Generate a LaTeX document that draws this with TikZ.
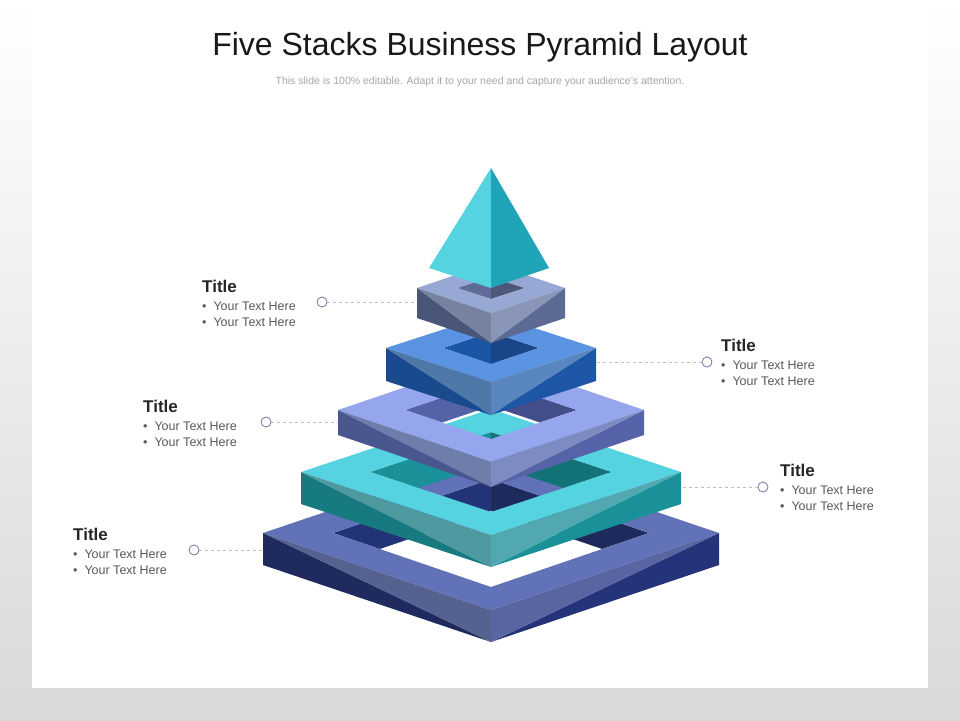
\documentclass[tikz,border=0pt]{standalone}
\usepackage{fontspec}
\setmainfont{Liberation Sans}
\newcommand\ringlayer[7]{% cx cy W D H w d
  \begin{scope}
    \clip (#1-#6,#2) -- (#1,#2-#7) -- (#1+#6,#2) -- (#1,#2+#7) -- cycle;
    \fill[rhl] (#1-#6,#2) -- (#1,#2-#7) -- (#1,#2-#7+#5) -- (#1-#6,#2+#5) -- cycle;
    \fill[rhr] (#1+#6,#2) -- (#1,#2-#7) -- (#1,#2-#7+#5) -- (#1+#6,#2+#5) -- cycle;
  \end{scope}
  \fill[rtop,even odd rule] (#1-#3,#2) -- (#1,#2-#4) -- (#1+#3,#2) -- (#1,#2+#4) -- cycle
     (#1-#6,#2) -- (#1,#2-#7) -- (#1+#6,#2) -- (#1,#2+#7) -- cycle;
  \fill[rleft] (#1-#3,#2) -- (#1,#2+#4+#5) -- (#1-#3,#2+#5) -- cycle;
  \fill[rleftl] (#1-#3,#2) -- (#1,#2+#4) -- (#1,#2+#4+#5) -- cycle;
  \fill[rright] (#1+#3,#2) -- (#1,#2+#4+#5) -- (#1+#3,#2+#5) -- cycle;
  \fill[rrightl] (#1+#3,#2) -- (#1,#2+#4) -- (#1,#2+#4+#5) -- cycle;
}
\newcommand\setring[7]{\definecolor{rtop}{HTML}{#1}\definecolor{rleft}{HTML}{#2}\definecolor{rleftl}{HTML}{#3}\definecolor{rright}{HTML}{#4}\definecolor{rrightl}{HTML}{#5}\definecolor{rhl}{HTML}{#6}\definecolor{rhr}{HTML}{#7}}
\tikzset{
  dot/.style={circle,draw=black!60!blue!60,fill=white,line width=0.7pt,minimum size=10pt,inner sep=0pt},
  lead/.style={draw=gray!50,dashed,line width=0.8pt},
  ttl/.style={anchor=west,font=\fontsize{17}{20}\selectfont\bfseries,text=black!85,inner sep=0pt},
  bul/.style={anchor=north west,font=\fontsize{12.5}{16}\selectfont,text=black!65,align=left,inner sep=0pt}
}
\begin{document}
\begin{tikzpicture}[x=1pt,y=-1pt]
\useasboundingbox (0,0) rectangle (960,720);
\shade[top color=white,bottom color=black!15] (0,0) rectangle (960,720);
\fill[white] (32,0) rectangle (928,688);
\node[font=\fontsize{32}{36}\selectfont,text=black!90] (title) at (480,47) {Five Stacks Business Pyramid Layout};
\node[font=\fontsize{10.5}{12}\selectfont,text=black!35] (sub) at (480,82) {This slide is 100\% editable. Adapt it to your need and capture your audience's attention.};
% layer 5
\setring{6272B8}{1F2A5E}{55628F}{24337A}{5865A0}{223377}{1E2A5C}
\ringlayer{491}{533}{228}{77}{32}{158}{54}
% layer 4
\setring{55D3E0}{167A80}{4E9AA0}{1A9098}{52A8B0}{1A9098}{137278}
\ringlayer{491}{472}{190}{63}{32}{121}{40}
% layer 3
\setring{96A6EE}{4A568E}{6F7DAA}{5663A8}{7E8BC2}{5462A8}{434E8A}
\ringlayer{491}{410}{153}{52}{25}{86}{29}
% layer 2
\setring{5B93E3}{1A4A8E}{4D78A8}{1E56A6}{5A86C0}{1B56A6}{1A4588}
\ringlayer{491}{348}{105}{34}{33}{48}{16}
% layer 1
\setring{98A8D4}{4A5678}{7782A0}{5D6A94}{8A96B8}{606C98}{4D5878}
\ringlayer{491}{288}{74}{25}{30}{34}{11}
% apex
\fill[fill={rgb,255:red,85;green,211;blue,224}] (491,168) -- (429,268) -- (491,288) -- cycle;
\fill[fill={rgb,255:red,32;green,164;blue,184}] (491,168) -- (549,268) -- (491,288) -- cycle;
% callouts
\coordinate (e1) at (417,302); \coordinate (e2) at (596,362); \coordinate (e3) at (338,422);
\coordinate (e4) at (681,487); \coordinate (e5) at (264,550);
\node[dot] (d1) at (322,302) {}; \node[dot] (d2) at (707,362) {}; \node[dot] (d3) at (266,422) {};
\node[dot] (d4) at (763,487) {}; \node[dot] (d5) at (194,550) {};
\draw[lead] (d1) -- (e1); \draw[lead] (d2) -- (e2); \draw[lead] (d3) -- (e3);
\draw[lead] (d4) -- (e4); \draw[lead] (d5) -- (e5);
\node[ttl] (t1) at (202,286) {Title}; \node[bul] (b1) at (202,302) {\textbullet\ \ Your Text Here\\\textbullet\ \ Your Text Here};
\node[ttl] (t2) at (721,345) {Title}; \node[bul] (b2) at (721,361) {\textbullet\ \ Your Text Here\\\textbullet\ \ Your Text Here};
\node[ttl] (t3) at (143,406) {Title}; \node[bul] (b3) at (143,422) {\textbullet\ \ Your Text Here\\\textbullet\ \ Your Text Here};
\node[ttl] (t4) at (780,470) {Title}; \node[bul] (b4) at (780,486) {\textbullet\ \ Your Text Here\\\textbullet\ \ Your Text Here};
\node[ttl] (t5) at (73,534) {Title}; \node[bul] (b5) at (73,550) {\textbullet\ \ Your Text Here\\\textbullet\ \ Your Text Here};
\end{tikzpicture}
\end{document}
